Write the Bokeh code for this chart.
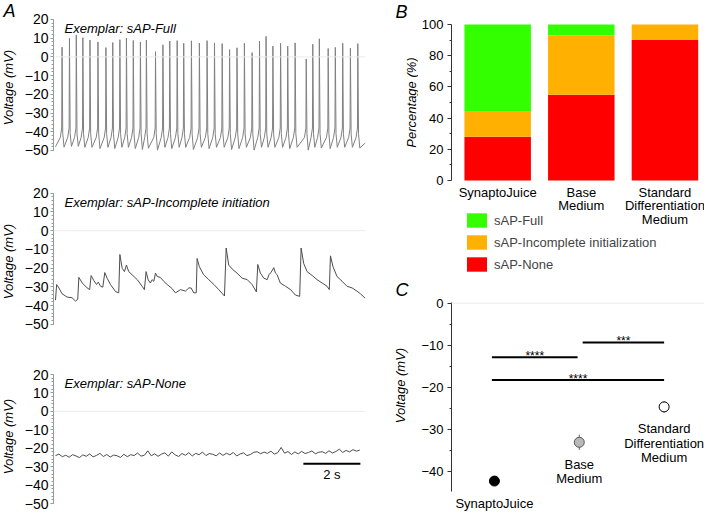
import math
from bokeh.plotting import figure
from bokeh.layouts import row, column
from bokeh.models import (Range1d, FixedTicker, Label, Legend, LegendItem,
                          ColumnDataSource, Span, CustomJSTickFormatter)
from bokeh.embed import file_html
from bokeh.resources import INLINE

FONT = "Liberation Sans"

# ---------------- Panel A: exemplar traces ----------------
full_spike_times_s = [0.23, 0.49, 0.73, 0.96, 1.21, 1.49, 1.77, 2.01, 2.26, 2.49,
                      2.73, 2.98, 3.19, 3.51, 3.77, 4.01, 4.27, 4.50, 4.77, 5.05,
                      5.32, 5.58, 5.85, 6.11, 6.37, 6.63, 6.90, 7.16, 7.39, 7.63,
                      7.90, 8.15, 8.41, 8.80, 9.03, 9.26, 9.57, 9.82, 10.08, 10.35,
                      10.61]
full_spike_peaks_mv = [5.2, 9.9, 11.8, 10.3, 9.0, 8.0, 5.0, 7.7, 9.2, 10.1,
                       8.8, 8.0, 9.0, 2.8, 6.5, 8.5, 8.7, 7.3, 8.6, 7.4,
                       8.7, 7.5, 7.1, 3.9, 4.9, 7.3, 2.3, 8.5, 11.0, 5.8,
                       7.2, 5.8, 7.5, -1.1, 6.8, 9.7, 4.5, 5.1, 7.3, 4.6,
                       7.1]
full_ahp_troughs_mv = [-48.2, -47.8, -47.8, -48.3, -48.3, -49.0, -48.3, -49.0, -48.3, -48.3,
                       -49.0, -49.5, -48.8, -49.8, -48.3, -49.0, -48.3, -48.3, -49.5, -48.3,
                       -49.0, -48.3, -48.3, -49.5, -49.0, -48.3, -49.8, -48.3, -48.3, -48.3,
                       -48.3, -49.0, -48.3, -49.8, -48.3, -48.7, -49.0, -48.3, -48.3, -48.3,
                       -48.7]
full_start_mv = -48.0
full_threshold_mv = -38.0
full_ramp_mv = -43.0
full_end = (10.87, -46.0)

incomplete_t_s = [0.00, 0.04, 0.12, 0.23, 0.41, 0.58, 0.70, 0.78, 0.82, 0.94,
                  1.11, 1.20, 1.25, 1.35, 1.44, 1.50, 1.58, 1.66, 1.73, 1.81,
                  1.93, 2.11, 2.22, 2.26, 2.34, 2.42, 2.49, 2.57, 2.69, 2.87,
                  3.04, 3.12, 3.18, 3.25, 3.33, 3.39, 3.45, 3.51, 3.57, 3.68,
                  3.80, 3.92, 4.09, 4.21, 4.39, 4.56, 4.68, 4.76, 4.85, 4.94,
                  4.97, 5.05, 5.20, 5.38, 5.56, 5.73, 5.93, 5.99, 6.08, 6.20,
                  6.37, 6.55, 6.73, 6.90, 7.05, 7.10, 7.19, 7.31, 7.43, 7.49,
                  7.57, 7.66, 7.72, 7.78, 7.89, 8.07, 8.25, 8.42, 8.57, 8.62,
                  8.71, 8.83, 9.01, 9.18, 9.36, 9.53, 9.61, 9.65, 9.74, 9.88,
                  10.06, 10.23, 10.41, 10.58, 10.70, 10.87]
incomplete_mv = [-37.0, -28.7, -30.5, -33.6, -35.4, -35.7, -37.5, -36.6, -24.9, -27.9,
                 -30.5, -31.4, -23.9, -26.7, -28.7, -27.4, -29.6, -30.1, -22.3, -25.3,
                 -28.7, -32.5, -33.1, -12.7, -20.0, -21.8, -18.3, -21.8, -23.5, -26.1,
                 -29.6, -31.4, -21.8, -26.1, -27.9, -26.1, -27.0, -22.6, -24.4, -24.9,
                 -27.0, -28.7, -30.8, -33.1, -31.4, -32.2, -30.5, -30.5, -33.1, -33.1,
                 -14.8, -19.2, -23.5, -26.1, -28.7, -31.4, -34.8, -9.2, -18.3, -20.4,
                 -22.6, -25.3, -26.1, -28.7, -32.6, -18.0, -22.6, -25.3, -26.1, -23.5,
                 -22.1, -19.7, -22.6, -23.5, -27.9, -29.6, -31.4, -34.3, -35.0, -9.2,
                 -17.4, -21.8, -23.9, -26.1, -27.9, -29.6, -31.4, -13.4, -19.2, -24.4,
                 -27.0, -29.6, -30.5, -32.2, -33.6, -36.0]

none_dt_s = 0.12
none_mv = [-24.0, -23.2, -24.6, -23.8, -24.9, -23.5, -24.2, -25.1, -23.6, -24.4,
           -23.1, -24.7, -23.9, -22.8, -24.5, -23.4, -24.8, -23.7, -24.1, -25.0,
           -23.3, -24.6, -23.5, -24.0, -22.6, -24.3, -23.8, -21.4, -24.1, -23.0,
           -24.4, -23.2, -22.5, -24.3, -22.0, -23.6, -24.5, -22.9, -23.8, -22.4,
           -24.2, -22.8, -23.5, -22.1, -24.0, -22.9, -23.3, -24.1, -22.6, -23.9,
           -22.7, -23.6, -22.3, -24.2, -23.1, -22.5, -24.0, -23.4, -22.2, -21.9,
           -23.0, -22.1, -22.8, -21.6, -23.2, -22.4, -19.6, -22.7, -21.8, -23.4,
           -22.0, -23.1, -21.7, -22.9, -22.3, -21.5, -23.0, -22.2, -21.9, -22.8,
           -21.4, -22.6, -21.8, -20.5, -22.3, -21.2, -22.0, -20.8, -21.6, -21.0]

trace_titles = ["Exemplar: sAP-Full", "Exemplar: sAP-Incomplete initiation", "Exemplar: sAP-None"]
y_ticks_A = [-50, -40, -30, -20, -10, 0, 10, 20]
scale_bar_s = 2
scale_bar_start_s = 8.70
scale_bar_level_mv = -28.4
scale_bar_label = "2 s"

# ---------------- Panel B: classification percentages ----------------
conditions = ["SynaptoJuice", "Base\nMedium", "Standard\nDifferentiation\nMedium"]
pct_full = [56, 7, 0]
pct_incomplete = [16, 38, 10]
pct_none = [28, 55, 90]
sap_classes = ["sAP-Full", "sAP-Incomplete initialization", "sAP-None"]
y_ticks_B = [0, 20, 40, 60, 80, 100]

# ---------------- Panel C: resting membrane potential ----------------
rmp_mean_mv = [-42.2, -33.0, -24.6]
rmp_sem_mv = [0.6, 1.8, 1.4]
sig_pairs = [(0, 1), (1, 2), (0, 2)]
sig_levels_mv = [-12.8, -9.3, -18.2]
sig_stars = ["****", "***", "****"]
y_ticks_C = [-40, -30, -20, -10, 0]

panel_letters = ["A", "B", "C"]
GREEN, ORANGE, RED = "#33ff00", "#ffb000", "#ff0000"
MINUS_FMT = CustomJSTickFormatter(code="return (tick < 0 ? '\\u2212' : '') + Math.abs(tick);")


def style_yaxis(p, ticks, minor, bounds, tick_size, axis_color, tick_out, standoff):
    ax = p.yaxis[0]
    ax.ticker = FixedTicker(ticks=ticks, minor_ticks=minor)
    ax.formatter = MINUS_FMT
    ax.bounds = bounds
    ax.major_label_text_font = FONT
    ax.major_label_text_font_size = tick_size
    ax.major_label_text_color = "black"
    ax.major_label_standoff = standoff
    ax.major_tick_out = tick_out
    ax.major_tick_in = 0
    ax.minor_tick_out = 2
    ax.minor_tick_in = 0
    ax.axis_line_color = axis_color
    ax.major_tick_line_color = axis_color
    ax.minor_tick_line_color = axis_color


def base_fig(width, height, xr, yr, left, right=0, y_axis=True):
    p = figure(width=width, height=height, x_range=xr, y_range=yr,
               x_axis_type=None, y_axis_type=("linear" if y_axis else None),
               toolbar_location=None, output_backend="svg",
               min_border_left=left, min_border_right=right,
               min_border_top=0, min_border_bottom=0)
    p.outline_line_color = None
    p.xgrid.visible = False
    p.ygrid.visible = False
    p.background_fill_color = "white"
    p.border_fill_color = "white"
    return p


def text_label(p, x, y, text, size="13px", style="normal", align="left",
               baseline="middle", angle=0.0, x_off=0, y_off=0):
    p.add_layout(Label(x=x, y=y, text=text, text_font=FONT, text_font_size=size,
                       text_font_style=style, text_align=align, text_baseline=baseline,
                       angle=angle, x_offset=x_off, y_offset=y_off, text_color="black"))


# ---- build the sAP-Full trace from the read spike times / peaks / troughs ----
full_t = [0.0]
full_v = [full_start_mv]
for ts, pk, tr in zip(full_spike_times_s, full_spike_peaks_mv, full_ahp_troughs_mv):
    full_t += [ts - 0.06, ts - 0.012, ts, ts + 0.025, ts + 0.07]
    full_v += [full_ramp_mv, full_threshold_mv, pk, -41.0, tr]
full_t.append(full_end[0])
full_v.append(full_end[1])
none_t = [i * none_dt_s for i in range(len(none_mv))]

traces = [(full_t, full_v, "#808080"),
          (incomplete_t_s, incomplete_mv, "#4d4d4d"),
          (none_t, none_mv, "#4d4d4d")]
# figure heights and y-ranges (frame fills each figure)
a_geom = [(170, -60.69, 30.15), (170, -58.53, 32.10), (172, -54.88, 38.45)]

a_figs = []
for k, ((tt, vv, col), (h, y0, y1)) in enumerate(zip(traces, a_geom)):
    p = base_fig(365, h, Range1d(-0.07, 10.88), Range1d(y0, y1), 33, right=20)
    style_yaxis(p, y_ticks_A, list(range(-50, 21, 2)), (-50, 20), "14px", "#9a9a9a", 3, 2)
    p.add_layout(Span(location=0, dimension="width", line_color="#ebebeb", line_width=1))
    p.line(tt, vv, line_color=col, line_width=1)
    text_label(p, 0.32, 15, trace_titles[k], style="italic", baseline="alphabetic")
    a_figs.append(p)

a3 = a_figs[2]
a3.line([scale_bar_start_s, scale_bar_start_s + scale_bar_s],
        [scale_bar_level_mv, scale_bar_level_mv], line_color="black", line_width=2)
text_label(a3, scale_bar_start_s + scale_bar_s / 2, scale_bar_level_mv, scale_bar_label,
           align="center", baseline="top", y_off=-3)

# ---- strip holding panel letter + axis titles for A (pixel coordinates) ----
stripA = base_fig(20, 512, Range1d(0, 20), Range1d(512, 0), 0, y_axis=False)
text_label(stripA, 3, 0, panel_letters[0], size="18px", style="italic", baseline="top")
for yc in (87, 261, 436):
    text_label(stripA, 8, yc, "Voltage (mV)", style="italic", align="center", angle=math.pi / 2)

# ---- Panel B ----
pB = base_fig(286, 280, Range1d(-0.552, 2.473), Range1d(-64.10, 115.38), 31)
style_yaxis(pB, y_ticks_B, [10, 30, 50, 70, 90], (0, 100), "13px", "#333333", 4, 4)
srcB = ColumnDataSource(dict(x=list(range(len(conditions))), none=pct_none,
                             inc=pct_incomplete, full=pct_full))
rs = pB.vbar_stack(["none", "inc", "full"], x="x", width=0.795, source=srcB,
                   fill_color=[RED, ORANGE, GREEN], line_color=None)
items = [LegendItem(label=sap_classes[0], renderers=[rs[2]]),
         LegendItem(label=sap_classes[1], renderers=[rs[1]]),
         LegendItem(label=sap_classes[2], renderers=[rs[0]])]
leg = Legend(items=items, location=(13, 7), orientation="vertical",
             glyph_width=25, glyph_height=18, label_height=18, label_width=10,
             spacing=4, padding=0, margin=0, label_standoff=5,
             label_text_font=FONT, label_text_font_size="13px",
             border_line_color=None, background_fill_alpha=0)
pB.add_layout(leg)
for i, c in enumerate(conditions):
    for k, line in enumerate(c.split("\n")):
        text_label(pB, i, 0, line, align="center", y_off=-(12 + 13.3 * k))

# ---- Panel C ----
pC = base_fig(286, 232, Range1d(-0.506, 2.476), Range1d(-49.66, 5.39), 31)
style_yaxis(pC, y_ticks_C, [-35, -25, -15, -5], (-44.7, 0.2), "13px", "#333333", 4, 4)
pC.add_layout(Span(location=0, dimension="width", line_color="#ebebeb", line_width=1))
xs = list(range(len(rmp_mean_mv)))
pC.segment(x0=xs, y0=[m - s for m, s in zip(rmp_mean_mv, rmp_sem_mv)],
           x1=xs, y1=[m + s for m, s in zip(rmp_mean_mv, rmp_sem_mv)],
           line_color="#666666", line_width=1)
pC.scatter(xs, rmp_mean_mv, size=10, fill_color=["black", "#b8b8b8", "white"],
           line_color=["black", "#555555", "black"], line_width=1)
sx0 = [a + (0.04 if a > 0 else -0.03) for a, b in sig_pairs]
sx1 = [b - (0.02 if b < 2 else 0.0) for a, b in sig_pairs]
pC.segment(x0=sx0, y0=sig_levels_mv, x1=sx1, y1=sig_levels_mv, line_color="black", line_width=2)
for x0, x1, lv, st in zip(sx0, sx1, sig_levels_mv, sig_stars):
    text_label(pC, (x0 + x1) / 2, lv, st, size="12px", align="center",
               baseline="alphabetic", y_off=1)
for i, c in enumerate(conditions):
    for k, line in enumerate(c.split("\n")):
        text_label(pC, i, rmp_mean_mv[i], line, align="center", y_off=-(22 + 14.3 * k))

# ---- strip holding panel letters + axis titles for B and C ----
stripBC = base_fig(33, 512, Range1d(0, 33), Range1d(512, 0), 0, y_axis=False)
text_label(stripBC, 10, 1, panel_letters[1], size="18px", style="italic", baseline="top")
text_label(stripBC, 26, 102, "Percentage (%)", style="italic", align="center", angle=math.pi / 2)
text_label(stripBC, 10, 279, panel_letters[2], size="18px", style="italic", baseline="top")
text_label(stripBC, 15, 385, "Voltage (mV)", style="italic", align="center", angle=math.pi / 2)

layout = row(stripA, column(*a_figs, spacing=0), stripBC, column(pB, pC, spacing=0), spacing=0)
open("out.html", "w").write(file_html(layout, INLINE))
